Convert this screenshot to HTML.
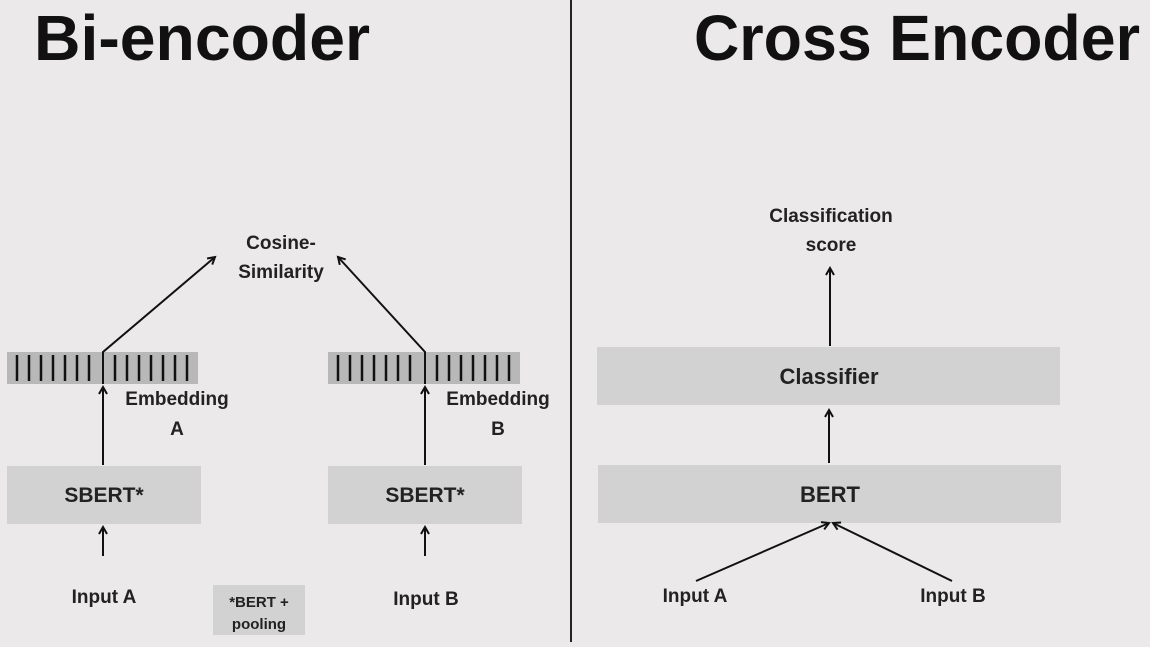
<!DOCTYPE html>
<html><head><style>body{margin:0;background:#ebe9ea}</style></head><body>
<svg width="1150" height="642" viewBox="0 0 1150 642" xmlns="http://www.w3.org/2000/svg" font-family="Liberation Sans, sans-serif" font-weight="bold">
<defs><marker id="a" markerWidth="10" markerHeight="10" refX="8" refY="5" orient="auto" markerUnits="userSpaceOnUse"><path d="M1,1 L8,5 L1,9" fill="none" stroke="#111" stroke-width="2"/></marker></defs>
<rect width="1150" height="642" fill="#ebe9ea"/>
<line x1="571" y1="0" x2="571" y2="642" stroke="#222" stroke-width="2"/>
<text x="34" y="60" font-size="64" fill="#111" textLength="336" lengthAdjust="spacingAndGlyphs">Bi-encoder</text>
<text x="694" y="60" font-size="64" fill="#111" textLength="446" lengthAdjust="spacingAndGlyphs">Cross Encoder</text>
<g fill="#d3d2d3">
<rect x="7" y="352" width="191" height="32" fill="#b9b8b9"/>
<rect x="328" y="352" width="192" height="32" fill="#b9b8b9"/>
<rect x="7" y="466" width="194" height="58"/>
<rect x="328" y="466" width="194" height="58"/>
<rect x="213" y="585" width="92" height="50"/>
<rect x="597" y="347" width="463" height="58"/>
<rect x="598" y="465" width="463" height="58"/>
</g>
<g stroke="#111" stroke-width="2.5">
<path d="M17 355V381M29 355V381M41 355V381M53 355V381M65 355V381M77 355V381M89 355V381M115 355V381M127 355V381M139 355V381M151 355V381M163 355V381M175 355V381M187 355V381"/>
<path d="M338 355V381M350 355V381M362 355V381M374 355V381M386 355V381M398 355V381M410 355V381M437 355V381M449 355V381M461 355V381M473 355V381M485 355V381M497 355V381M509 355V381"/>
</g>
<g stroke="#111" stroke-width="2" fill="none" marker-end="url(#a)">
<line x1="103" y1="556" x2="103" y2="527"/>
<line x1="103" y1="465" x2="103" y2="387"/>
<polyline points="103,384 103,352 215,257"/>
<line x1="425" y1="556" x2="425" y2="527"/>
<line x1="425" y1="465" x2="425" y2="387"/>
<polyline points="425,384 425,352 338,257"/>
<line x1="830" y1="346" x2="830" y2="268"/>
<line x1="829" y1="463" x2="829" y2="410"/>
<line x1="696" y1="581" x2="829" y2="523"/>
<line x1="952" y1="581" x2="833" y2="523"/>
</g>
<g fill="#222" font-size="19" text-anchor="middle">
<text x="281" y="249">Cosine-</text>
<text x="281" y="278">Similarity</text>
<text x="177" y="405">Embedding</text>
<text x="177" y="435">A</text>
<text x="498" y="405">Embedding</text>
<text x="498" y="435">B</text>
<text x="104" y="502" font-size="21">SBERT*</text>
<text x="425" y="502" font-size="21">SBERT*</text>
<text x="104" y="603">Input A</text>
<text x="426" y="605">Input B</text>
<text x="259" y="607" font-size="15">*BERT +</text>
<text x="259" y="629" font-size="15">pooling</text>
<text x="831" y="222">Classification</text>
<text x="831" y="251">score</text>
<text x="829" y="384" font-size="22">Classifier</text>
<text x="830" y="502" font-size="22">BERT</text>
<text x="695" y="602">Input A</text>
<text x="953" y="602">Input B</text>
</g>
</svg>
</body></html>
